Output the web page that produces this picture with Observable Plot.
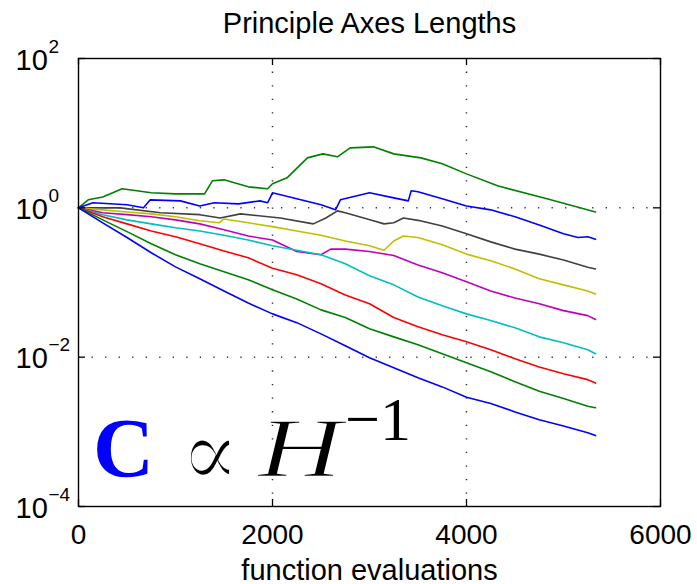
<!DOCTYPE html>
<html><head><meta charset="utf-8">
<script src="https://cdn.jsdelivr.net/npm/d3@7"></script>
<script src="https://cdn.jsdelivr.net/npm/@observablehq/plot@0.6"></script>
<style>html,body{margin:0;padding:0;background:#fff}</style>
</head><body><div id="chart"></div>
<script>
// ---- data ----
const evals = [0,250,500,750,1000,1250,1500,1750,2000,2250,2500,2750,3000,3250,3500,3750,4000,4250,4500,4750,5000,5250,5330];

const green1X = [0,100,250,450,750,1000,1300,1380,1500,1750,1950,2000,2150,2360,2520,2670,2800,3040,3250,3530,3750,4000,4320,4830,5170,5330];
const green1Y = [1,1.28,1.40,1.80,1.59,1.54,1.54,2.30,2.37,1.91,1.80,2.10,2.52,4.67,5.28,4.82,6.36,6.56,5.28,4.67,3.9,2.85,1.97,1.32,1.0,0.88];

const blue2X = [0,150,500,670,740,1050,1250,1400,1650,1870,1950,2000,2250,2500,2650,2700,3000,3250,3400,3430,3500,3750,4000,4250,4500,4750,5000,5150,5250,5330];
const blue2Y = [1,1.17,1.10,1.0,1.28,1.24,1.06,1.17,1.13,1.24,1.17,1.59,1.32,1.10,0.94,1.28,1.59,1.36,1.24,1.69,1.64,1.32,1.06,0.94,0.76,0.59,0.45,0.40,0.41,0.38];

const grayX = [0,430,845,1250,1460,1670,2080,2420,2550,2670,2750,3040,3150,3250,3350,3500,3750,4000,4250,4500,4750,5000,5250,5330];
const grayY = [1,1.0,0.86,0.81,0.73,0.83,0.73,0.61,0.73,0.91,0.86,0.67,0.61,0.63,0.73,0.68,0.57,0.45,0.35,0.28,0.24,0.20,0.16,0.152];

const yellowX = [0,250,500,750,1000,1250,1450,1500,1750,2000,2250,2500,2750,3000,3150,3250,3350,3500,3750,4000,4250,4500,4750,5000,5250,5330];
const yellowY = [1,0.94,0.88,0.83,0.76,0.67,0.63,0.71,0.63,0.56,0.49,0.43,0.36,0.31,0.27,0.36,0.42,0.40,0.32,0.24,0.195,0.152,0.112,0.093,0.077,0.070];

const magentaX = [0,250,500,750,1000,1250,1500,1750,2000,2250,2500,2600,2750,3000,3250,3500,3750,4000,4250,4500,4750,5000,5250,5330];
const magentaY = [1,0.86,0.81,0.76,0.69,0.61,0.51,0.42,0.37,0.26,0.235,0.28,0.28,0.26,0.23,0.172,0.135,0.102,0.077,0.062,0.052,0.042,0.036,0.032];

const cyanY  = [1,0.81,0.69,0.61,0.54,0.49,0.43,0.37,0.31,0.27,0.235,0.178,0.123,0.093,0.064,0.049,0.038,0.031,0.0247,0.0187,0.0156,0.0126,0.0111];
const redY   = [1,0.76,0.61,0.49,0.41,0.33,0.265,0.214,0.155,0.127,0.096,0.068,0.052,0.034,0.0255,0.020,0.0161,0.0126,0.0095,0.0074,0.0060,0.0050,0.0045];
const green8Y= [1,0.69,0.48,0.33,0.235,0.178,0.139,0.109,0.080,0.060,0.043,0.034,0.024,0.0187,0.0147,0.0111,0.0084,0.0064,0.0047,0.0035,0.0028,0.0022,0.0021];
const blue9Y = [1,0.63,0.40,0.25,0.162,0.112,0.077,0.053,0.038,0.029,0.0205,0.0142,0.0098,0.0072,0.0053,0.0040,0.0029,0.0024,0.00185,0.00145,0.0012,0.00097,0.00089];

const seriesNames  = ["green1","blue2","gray","yellow","magenta","cyan","red","green8","blue9"];
const seriesColors = ["#008000","#0000ff","#404040","#bfbf00","#bf00bf","#00bfbf","#ff0000","#008000","#0000ff"];

const xTicks = [0,2000,4000,6000];
const yTicks = [1e-4,1e-2,1,1e2];
const yTickExp = ["\u22124","\u22122","0","2"];
const titleText = "Principle Axes Lengths";
const xLabel = "function evaluations";

// ---- build rows ----
const seriesXY = {
  green1:[green1X,green1Y], blue2:[blue2X,blue2Y], gray:[grayX,grayY], yellow:[yellowX,yellowY],
  magenta:[magentaX,magentaY], cyan:[evals,cyanY], red:[evals,redY], green8:[evals,green8Y], blue9:[evals,blue9Y]
};
const rows = seriesNames.flatMap(n => seriesXY[n][0].map((x,i)=>({series:n, x, y:seriesXY[n][1][i]})));

const W=697, H=584, ml=78, mr=37, mt=58, mb=78;
const fw = W-ml-mr, fh = H-mt-mb;
const sans = "'Liberation Sans', Arial, Helvetica, sans-serif";

const plot = Plot.plot({
  width: W, height: H, marginLeft: ml, marginRight: mr, marginTop: mt, marginBottom: mb,
  style: {fontFamily: sans, background: "white", overflow: "visible", color: "black"},
  x: {domain: [0,6000], axis: null},
  y: {type: "log", domain: [1e-4,1e2], axis: null},
  color: {domain: seriesNames, range: seriesColors},
  marks: [
    Plot.ruleX(xTicks.slice(1,-1), {x: d=>d, stroke:"#333", strokeWidth:1.5, strokeDasharray:"1.3,12.28"}),
    Plot.ruleY(yTicks.slice(1,-1), {y: d=>d, stroke:"#333", strokeWidth:1.5, strokeDasharray:"1.3,12.23"}),
    Plot.line(rows, {x:"x", y:"y", z:"series", stroke: d=>d.series, strokeWidth:1.6, curve:"linear"}),
    Plot.tickX(xTicks, {x:d=>d, insetTop: fh-7, stroke:"black", strokeWidth:1.3}),
    Plot.tickX(xTicks, {x:d=>d, insetBottom: fh-7, stroke:"black", strokeWidth:1.3}),
    Plot.tickY(yTicks, {y:d=>d, insetRight: fw-7, stroke:"black", strokeWidth:1.3}),
    Plot.tickY(yTicks, {y:d=>d, insetLeft: fw-7, stroke:"black", strokeWidth:1.3}),
    Plot.frame({stroke:"black", strokeWidth:1.4}),
    Plot.text(xTicks, {x:d=>d, frameAnchor:"bottom", lineAnchor:"bottom", dy:37, text:d=>String(d), fontSize:28, fill:"black"}),
    Plot.text(yTicks, {y:d=>d, frameAnchor:"left", lineAnchor:"bottom", textAnchor:"start", dx:-63, dy:11, text:()=> "10", fontSize:29, fill:"black"}),
    Plot.text(yTicks, {y:d=>d, frameAnchor:"left", lineAnchor:"bottom", textAnchor:"start", dx:-30, dy:-6, text:yTickExp, fontSize:19, fill:"black"}),
    Plot.text([titleText], {frameAnchor:"top", lineAnchor:"bottom", dy:-26, fontSize:29, fill:"black"}),
    Plot.text([xLabel], {frameAnchor:"bottom", lineAnchor:"bottom", dy:73, fontSize:29, fill:"black"})
  ]
});

// annotation  C ∝ H^{-1}
const svg = d3.select(plot);
const g = svg.append("g").attr("font-family","'Liberation Serif','DejaVu Serif',serif").attr("text-anchor","start");
g.append("text").attr("x",93).attr("y",477).attr("font-size",84).attr("font-weight","bold").attr("fill","#0000ff")
  .attr("textLength",61).attr("lengthAdjust","spacingAndGlyphs").text("C");
g.append("text").attr("x",180).attr("y",487).attr("font-size",98).attr("fill","black")
  .attr("font-family","'DejaVu Serif',serif").attr("textLength",60).attr("lengthAdjust","spacingAndGlyphs")
  .attr("stroke","white").attr("stroke-width",3).text("\u221D");
g.append("text").attr("x",258).attr("y",477).attr("font-size",84).attr("font-style","italic").attr("fill","black")
  .attr("textLength",84).attr("lengthAdjust","spacingAndGlyphs")
  .attr("stroke","white").attr("stroke-width",1.5).text("H");
g.append("text").attr("x",345).attr("y",440).attr("font-size",62).attr("fill","black").text("\u22121");

document.getElementById("chart").appendChild(plot);
</script>
</body></html>
